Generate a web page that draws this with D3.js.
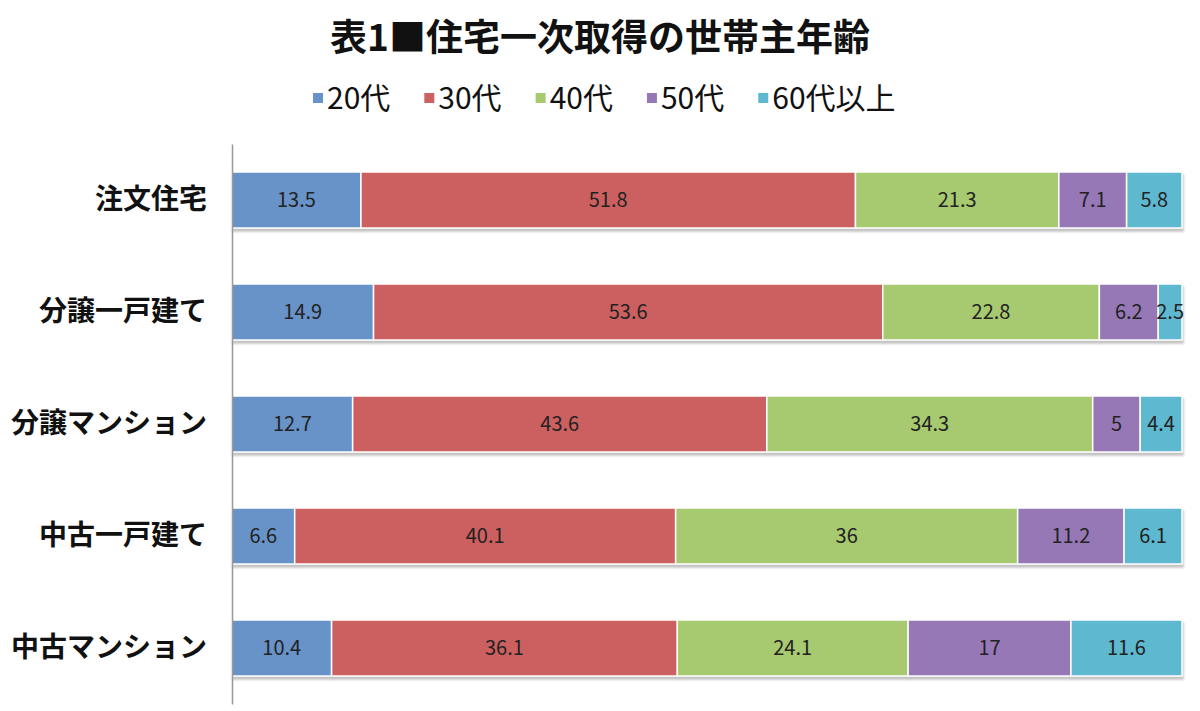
<!DOCTYPE html>
<html>
<head>
<meta charset="utf-8">
<script src="https://cdn.jsdelivr.net/npm/d3@7"></script>
<style>
  body { margin: 0; background: #fff; }
  text { font-family: "Noto Sans CJK JP", "Noto Sans", sans-serif; }
</style>
</head>
<body>
<div class="chart"></div>
<script>
// data
const categories = ["注文住宅", "分譲一戸建て", "分譲マンション", "中古一戸建て", "中古マンション"];
const series = ["20代", "30代", "40代", "50代", "60代以上"];
const values = [
  [13.5, 51.8, 21.3, 7.1, 5.8],
  [14.9, 53.6, 22.8, 6.2, 2.5],
  [12.7, 43.6, 34.3, 5, 4.4],
  [6.6, 40.1, 36, 11.2, 6.1],
  [10.4, 36.1, 24.1, 17, 11.6]
];
const colors = ["#6893c8", "#cc6161", "#a7c96f", "#9778b6", "#5db8d0"];
const title = "表1■住宅一次取得の世帯主年齢";

const width = 1200, height = 711;
const margin = { top: 144, right: 18, bottom: 7, left: 232 };
const innerW = width - margin.left - margin.right;
const innerH = height - margin.top - margin.bottom;

const svg = d3.select(".chart").append("svg")
  .attr("width", width)
  .attr("height", height);

const defs = svg.append("defs");
const shadow = defs.append("filter").attr("id", "shadow")
  .attr("x", "-5%").attr("y", "-20%").attr("width", "110%").attr("height", "150%");
shadow.append("feDropShadow")
  .attr("dx", 1).attr("dy", 3).attr("stdDeviation", 1)
  .attr("flood-color", "#999").attr("flood-opacity", 0.6);

// title
svg.append("text")
  .attr("x", 600).attr("y", 51)
  .attr("text-anchor", "middle")
  .attr("font-size", 37).attr("font-weight", "bold")
  .attr("fill", "#111")
  .text(title);

// legend
const legend = svg.append("g").attr("transform", "translate(0,98)");
let lx = 313;
series.forEach((s, i) => {
  const g = legend.append("g").attr("transform", `translate(${lx},0)`);
  g.append("rect").attr("x", 0).attr("y", -5).attr("width", 10).attr("height", 10).attr("fill", colors[i]);
  const t = g.append("text").attr("x", 14).attr("y", 11)
    .attr("font-size", 30).attr("fill", "#111").text(s);
  lx += 14 + t.node().getComputedTextLength() + 34;
});

const g = svg.append("g")
  .attr("transform", `translate(${margin.left},${margin.top})`);

const x = d3.scaleLinear().domain([0, 1]).range([0, innerW]);
const y = d3.scaleBand().domain(categories).range([0, innerH])
  .paddingInner(0.5).paddingOuter(0.25);

// build stacked rows (normalized to 100%)
const rows = categories.map((c, r) => {
  const total = d3.sum(values[r]);
  let acc = 0;
  return values[r].map((v, i) => {
    const seg = { cat: c, key: series[i], value: v, x0: acc / total, x1: (acc + v) / total, i };
    acc += v;
    return seg;
  });
});

const rowG = g.selectAll(".row").data(rows).join("g")
  .attr("class", "row")
  .attr("transform", d => `translate(0,${y(d[0].cat)})`);

rowG.append("g").attr("filter", "url(#shadow)")
  .selectAll("rect").data(d => d).join("rect")
  .attr("x", d => x(d.x0))
  .attr("width", d => x(d.x1) - x(d.x0))
  .attr("height", y.bandwidth())
  .attr("fill", d => colors[d.i])
  .attr("stroke", "#fff").attr("stroke-width", 1.5);

rowG.selectAll(".val").data(d => d).join("text")
  .attr("class", "val")
  .attr("x", d => (x(d.x0) + x(d.x1)) / 2)
  .attr("y", y.bandwidth() / 2)
  .attr("dy", "0.35em")
  .attr("text-anchor", "middle")
  .attr("font-size", 20)
  .attr("fill", "#222")
  .text(d => d.value);

// axis
const yAxis = d3.axisLeft(y).tickSize(0).tickPadding(25);
g.append("g").attr("class", "axis y-axis").call(yAxis)
  .call(a => a.select(".domain").attr("stroke", "#999").attr("stroke-width", 1.5))
  .call(a => a.selectAll("text")
    .attr("font-size", 28).attr("font-weight", "bold").attr("fill", "#111")
    .attr("font-family", "'Noto Sans CJK JP', sans-serif"));
</script>
</body>
</html>
